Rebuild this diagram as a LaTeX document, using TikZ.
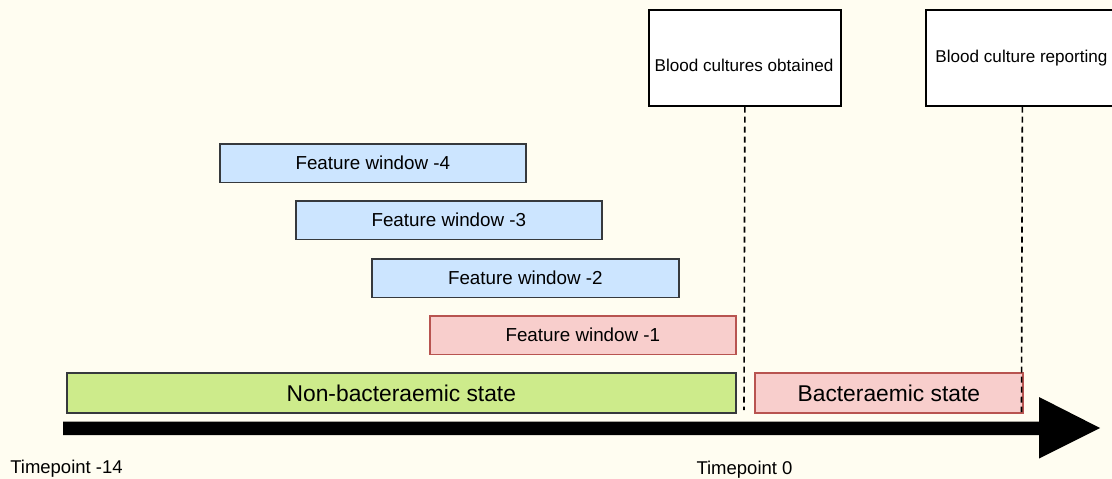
\documentclass[tikz,border=0pt]{standalone}
\usepackage{fontspec}
\setmainfont{Liberation Sans}
\definecolor{bgc}{HTML}{FFFDF1}
\definecolor{bluefill}{HTML}{CCE5FF}
\definecolor{darkstroke}{HTML}{36393D}
\definecolor{greenfill}{HTML}{CDEB8B}
\definecolor{redfill}{HTML}{F8CECC}
\definecolor{redstroke}{HTML}{B85450}
\begin{document}
\begin{tikzpicture}[x=1pt,y=-1pt,
  bx/.style={draw=darkstroke,line width=1.7pt,inner sep=0pt,anchor=north west,align=center},
  fwbox/.style={bx,fill=bluefill,minimum height=38.5pt,font=\fontsize{18.8}{20}\selectfont},
  redbox/.style={bx,fill=redfill,draw=redstroke},
  eventbox/.style={draw=black,fill=white,line width=1.7pt,inner sep=0pt,anchor=north west,minimum width=192pt,minimum height=96pt},
  eventtext/.style={font=\fontsize{17.1}{19}\selectfont,inner sep=0pt},
  statetext/.style={font=\fontsize{22.8}{24}\selectfont},
  tptext/.style={font=\fontsize{18.5}{20}\selectfont,inner sep=0pt,anchor=base},
  guide/.style={draw=black,line width=1.6pt,dash pattern=on 6pt off 4pt}
]
\useasboundingbox (0,0) rectangle (1112,479);
\fill[bgc] (0,0) rectangle (1112,479);
\clip (0,0) rectangle (1112,479);

% event boxes
\node[eventbox] (bco) at (648,9) {};
\node[eventtext] (bcot) at (744,65) {Blood cultures obtained};
\node[eventbox,minimum width=193pt] (bcr) at (925,9) {};
\node[eventtext] (bcrt) at (1021.5,58) {Blood culture reporting};

% feature windows
\node[fwbox,minimum width=306pt] (fw4) at (219,143) {Feature window -4};
\node[fwbox,minimum width=306pt] (fw3) at (295,200) {Feature window -3};
\node[fwbox,minimum width=307pt] (fw2) at (371,258) {Feature window -2};
\node[fwbox,redbox,minimum width=306pt] (fw1) at (429,315) {Feature window -1};

% states
\node[bx,fill=greenfill,minimum width=669pt,minimum height=40pt,statetext] (nonb) at (66,372) {Non-bacteraemic state};
\node[bx,redbox,minimum width=268pt,minimum height=40pt,statetext] (bact) at (754,372) {Bacteraemic state};

% dashed guides
\coordinate (g1) at (744,410);
\coordinate (g2) at (1021.5,412);
\draw[guide] (bco.south) -- (g1);
\draw[guide] (bcr.south) -- (g2);

% timeline arrow
\fill[black] (63,421.5) -- (1039,421.5) -- (1039,397) -- (1100,428) -- (1039,458.5) -- (1039,435) -- (63,435) -- cycle;

% timepoints
\node[tptext] (tp14) at (66.5,473.5) {Timepoint -14};
\node[tptext] (tp0) at (744.5,474.5) {Timepoint 0};
\end{tikzpicture}
\end{document}
